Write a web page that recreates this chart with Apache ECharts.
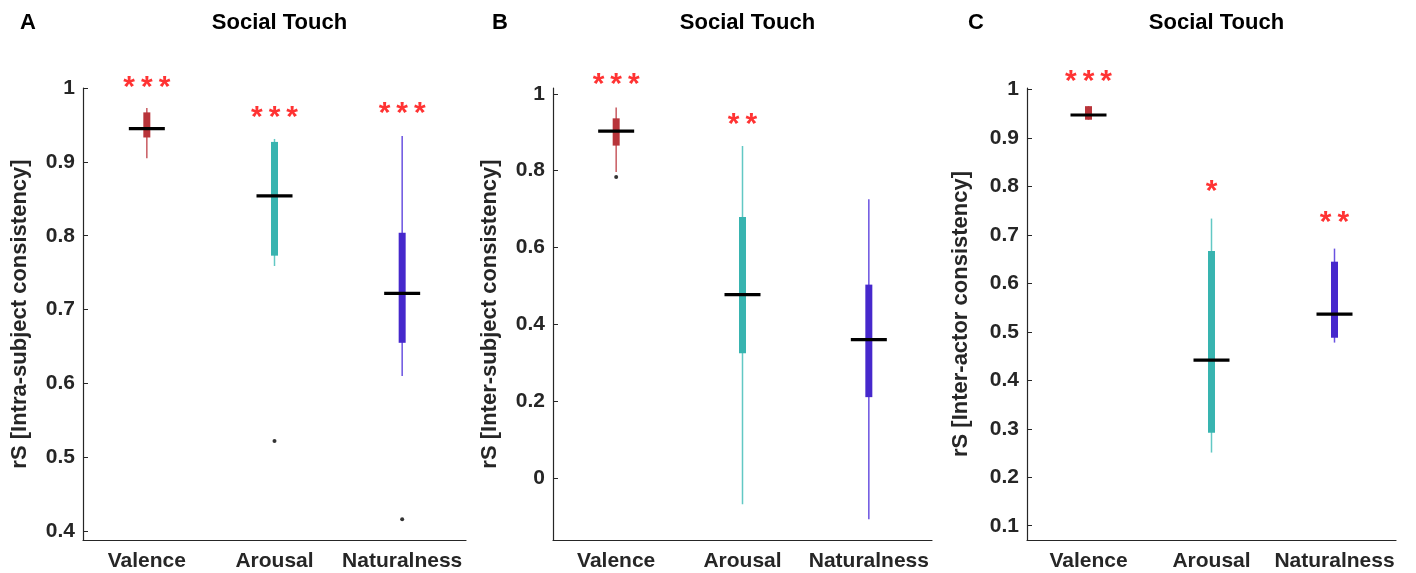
<!DOCTYPE html>
<html>
<head>
<meta charset="utf-8">
<script src="https://cdn.jsdelivr.net/npm/echarts@6/dist/echarts.min.js"></script>
<style>
  html, body { margin: 0; padding: 0; background: #fff; }
</style>
</head>
<body>
<div id="main" style="width: 1416px;height: 573px"></div>
<script type="text/javascript">
    // 数据: 每项 [whiskerLow, q1, median, q3, whiskerHigh]
    var categories = ['Valence', 'Arousal', 'Naturalness'];

    var intraBoxes = [
        [0.905, 0.933, 0.945, 0.967, 0.973],
        [0.759, 0.773, 0.854, 0.927, 0.931],
        [0.610, 0.655, 0.722, 0.804, 0.935]
    ];
    var intraOutliers = [[1, 0.522], [2, 0.416]];
    var intraStars = ['***', '***', '***'];
    var intraStarY = [1.011, 0.970, 0.976];

    var subjBoxes = [
        [0.796, 0.865, 0.903, 0.936, 0.964],
        [-0.069, 0.324, 0.477, 0.679, 0.864],
        [-0.108, 0.210, 0.360, 0.503, 0.725]
    ];
    var subjOutliers = [[0, 0.783]];
    var subjStars = ['***', '**', ''];
    var subjStarY = [1.044, 0.941, 0];

    var actorBoxes = [
        [0.938, 0.938, 0.948, 0.966, 0.966],
        [0.251, 0.292, 0.442, 0.667, 0.734],
        [0.478, 0.488, 0.537, 0.645, 0.672]
    ];
    var actorOutliers = [];
    var actorStars = ['***', '*', '**'];
    var actorStarY = [1.032, 0.805, 0.741];

    var ticksA = [0.4, 0.5, 0.6, 0.7, 0.8, 0.9, 1];
    var ticksB = [0, 0.2, 0.4, 0.6, 0.8, 1];
    var ticksC = [0.1, 0.2, 0.3, 0.4, 0.5, 0.6, 0.7, 0.8, 0.9, 1];

    var boxColors = ['#b8343a', '#38b4b0', '#4628cc'];
    var whiskerColors = ['#c85a60', '#62c8c4', '#6a52e0'];
    var axisColor = '#262626';
    var font = 'Liberation Sans, Arial, sans-serif';

    function renderBox(params, api) {
        var i = api.value(0);
        var lo = api.coord([i, api.value(1)]);
        var q1 = api.coord([i, api.value(2)]);
        var med = api.coord([i, api.value(3)]);
        var q3 = api.coord([i, api.value(4)]);
        var hi = api.coord([i, api.value(5)]);
        var x = med[0];
        return {
            type: 'group',
            children: [
                { type: 'line', shape: { x1: x, y1: hi[1], x2: x, y2: lo[1] },
                  style: { stroke: whiskerColors[i], lineWidth: 1.5 } },
                { type: 'rect', shape: { x: x - 3.5, y: q3[1], width: 7, height: Math.max(q1[1] - q3[1], 1) },
                  style: { fill: boxColors[i] } },
                { type: 'rect', shape: { x: x - 18, y: med[1] - 1.5, width: 36, height: 3.2 },
                  style: { fill: '#000' } }
            ]
        };
    }

    function boxData(boxes) {
        return boxes.map(function (b, i) { return [i].concat(b); });
    }
    // 星号之间加细空格
    function starData(stars, ys) {
        var out = [];
        stars.forEach(function (s, i) {
            if (s) out.push({ value: [i, ys[i]], label: { formatter: s.split('').join('\u2009') } });
        });
        return out;
    }

    var grids = [
        { left: 83, top: 88, width: 383, height: 452 },
        { left: 553, top: 88, width: 379, height: 452 },
        { left: 1027, top: 88, width: 369, height: 452 }
    ];
    var ranges = [[0.388, 1.0], [-0.162, 1.015], [0.0705, 1.0035]];
    var tickSets = [ticksA, ticksB, ticksC];
    var names = ['rS [Intra-subject consistency]', 'rS [Inter-subject consistency]', 'rS [Inter-actor consistency]'];
    var nameGaps = [52, 52, 55];
    var allBoxes = [intraBoxes, subjBoxes, actorBoxes];
    var allOutliers = [intraOutliers, subjOutliers, actorOutliers];
    var allStars = [[intraStars, intraStarY], [subjStars, subjStarY], [actorStars, actorStarY]];
    var letters = ['A', 'B', 'C'];
    var letterX = [15, 487, 963];

    var xAxes = [], yAxes = [], series = [], titles = [];
    for (var k = 0; k < 3; k++) {
        xAxes.push({
            type: 'category', gridIndex: k, data: categories,
            axisLine: { onZero: false, lineStyle: { color: axisColor, width: 1.2 } },
            axisTick: { inside: true, length: 5, alignWithLabel: true, lineStyle: { color: axisColor } },
            axisLabel: { interval: 0, color: axisColor, fontFamily: font, fontWeight: 'bold', fontSize: 21, margin: 11 },
            splitLine: { show: false }
        });
        yAxes.push({
            type: 'value', gridIndex: k, min: ranges[k][0], max: ranges[k][1],
            name: names[k], nameLocation: 'middle', nameGap: nameGaps[k],
            nameTextStyle: { color: axisColor, fontFamily: font, fontWeight: 'bold', fontSize: 22 },
            axisLine: { show: true, lineStyle: { color: axisColor, width: 1.2 } },
            axisTick: { show: true, inside: true, length: 5, customValues: tickSets[k], lineStyle: { color: axisColor } },
            axisLabel: { color: axisColor, fontFamily: font, fontWeight: 'bold', fontSize: 21, margin: 8,
                         customValues: tickSets[k] },
            splitLine: { show: false }
        });
        series.push({
            type: 'custom', xAxisIndex: k, yAxisIndex: k,
            renderItem: renderBox, data: boxData(allBoxes[k]), clip: false
        });
        series.push({
            type: 'scatter', xAxisIndex: k, yAxisIndex: k, symbol: 'circle', symbolSize: 4,
            itemStyle: { color: '#000' }, data: allOutliers[k].map(function (o) { return [o[0], o[1]]; })
        });
        series.push({
            type: 'scatter', xAxisIndex: k, yAxisIndex: k, symbolSize: 0, clip: false,
            label: { show: true, position: 'inside', color: '#ff0000', fontFamily: font, fontWeight: 'bold',
                     fontSize: 30, lineHeight: 30, offset: [0, 8] },
            data: starData(allStars[k][0], allStars[k][1])
        });
        titles.push({
            text: 'Social Touch', left: grids[k].left + grids[k].width / 2, top: 7, textAlign: 'center',
            textStyle: { color: '#000', fontFamily: font, fontWeight: 'bold', fontSize: 22 }
        });
        titles.push({
            text: letters[k], left: letterX[k], top: 7,
            textStyle: { color: '#000', fontFamily: font, fontWeight: 'bold', fontSize: 22 }
        });
    }

    var myChart = echarts.init(document.getElementById('main'));
    myChart.setOption({
        animation: false,
        title: titles,
        grid: grids,
        xAxis: xAxes,
        yAxis: yAxes,
        series: series
    });
</script>
</body>
</html>
